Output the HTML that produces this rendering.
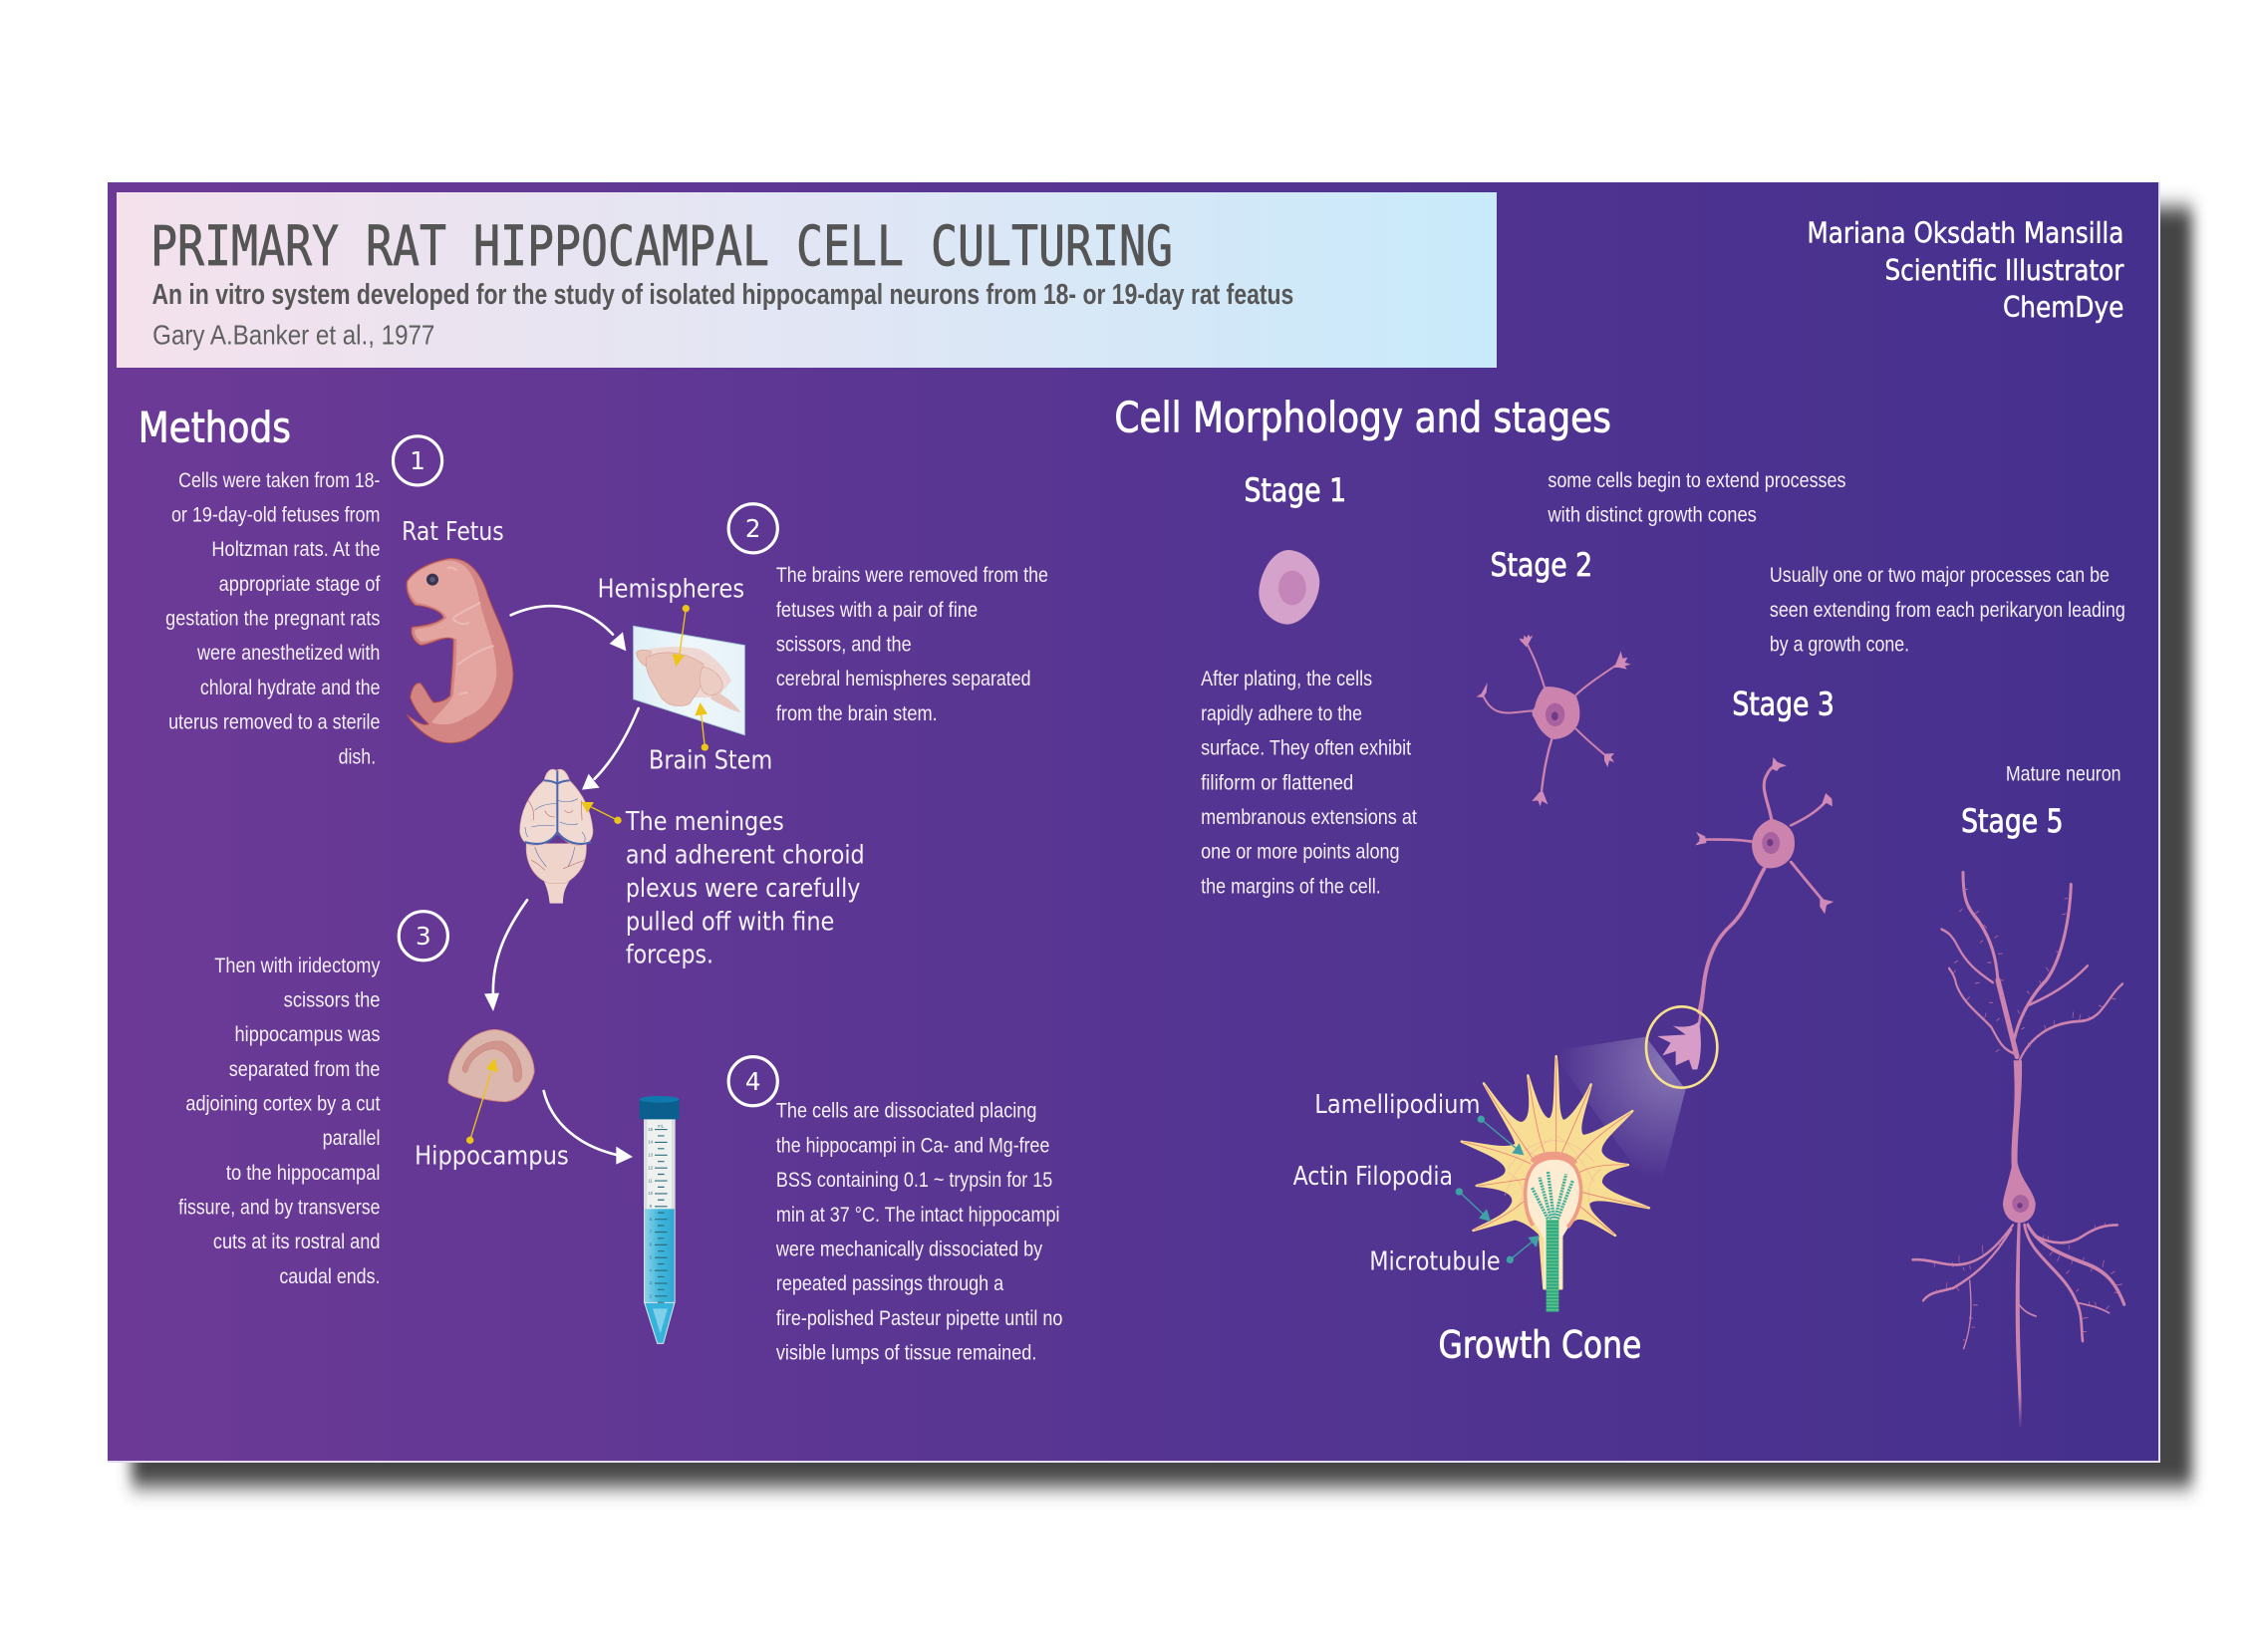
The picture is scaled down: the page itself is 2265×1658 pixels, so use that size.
<!DOCTYPE html>
<html lang="en">
<head>
<meta charset="utf-8">
<title>Primary Rat Hippocampal Cell Culturing</title>
<style>
html,body{margin:0;padding:0;background:#fff;}
svg{display:block;}
.b{font-family:"Liberation Sans",sans-serif;font-size:15px;fill:#f4eff9;transform:translateY(-.7px);}
.l{font-family:"DejaVu Sans",sans-serif;font-size:18px;fill:#f6f2fb;}
.a{font-family:"DejaVu Sans",sans-serif;font-size:20px;fill:#fff;stroke:#fff;stroke-width:.35px;}
.h{font-family:"DejaVu Sans",sans-serif;fill:#fff;stroke:#fff;stroke-width:.55px;}
.n{font-family:"DejaVu Sans",sans-serif;font-size:17px;fill:#fff;text-anchor:middle;}
.c{fill:none;stroke:#fff;stroke-width:2.2;}
.w{fill:none;stroke:#fff;stroke-width:8;stroke-linecap:round;}
.y{stroke:#edc516;fill:none;stroke-width:4;}
.t{stroke:#3fa1a5;fill:none;stroke-width:4;}
.p{fill:none;stroke:#cc83ae;stroke-linecap:round;}
.r{fill:none;stroke:#e97f72;stroke-width:2.5;}
.s{fill:none;stroke:#c76fa3;stroke-width:1.8;}
.mm{font-family:"Liberation Sans",sans-serif;font-size:13px;fill:#3f7282;}
</style>
</head>
<body>
<svg xmlns="http://www.w3.org/2000/svg" width="2265" height="1658" viewBox="0 0 2265 1658">
<defs>
<linearGradient id="pg" x1="0" y1="0" x2="1" y2="0"><stop offset="0" stop-color="#6c3a96"/><stop offset=".5" stop-color="#563592"/><stop offset="1" stop-color="#45308e"/></linearGradient>
<linearGradient id="tg" x1="0" y1="0" x2="1" y2="0"><stop offset="0" stop-color="#f4e1ec"/><stop offset=".5" stop-color="#e2e6f4"/><stop offset="1" stop-color="#c8eafb"/></linearGradient>
<linearGradient id="fade" gradientUnits="userSpaceOnUse" x1="0" y1="1230" x2="0" y2="1310"><stop offset="0" stop-color="#cc83ae"/><stop offset="1" stop-color="#cc83ae" stop-opacity="0"/></linearGradient>
<linearGradient id="slide" x1="0" y1="0" x2="1" y2="0"><stop offset="0" stop-color="#dff0f6"/><stop offset=".5" stop-color="#eef7fb"/><stop offset="1" stop-color="#e6f2f9"/></linearGradient>
<linearGradient id="liq" x1="0" y1="0" x2="1" y2="0"><stop offset="0" stop-color="#8fd2e8"/><stop offset=".5" stop-color="#3fb6dc"/><stop offset="1" stop-color="#2fa8d2"/></linearGradient>
<radialGradient id="beam" gradientUnits="userSpaceOnUse" cx="1195" cy="205" r="345"><stop offset="0" stop-color="#fff" stop-opacity=".34"/><stop offset="1" stop-color="#fff" stop-opacity="0"/></radialGradient>
<filter id="blur" x="-5%" y="-5%" width="110%" height="110%"><feGaussianBlur stdDeviation="7 10"/></filter>
</defs>

<rect width="2265" height="1658" fill="#fff"/>
<rect x="132" y="208" width="2068" height="1284" fill="#444" filter="url(#blur)"/>
<rect x="108" y="183" width="2059" height="1284" fill="url(#pg)"/>
<polyline points="2167,183 2167,1467 108,1467" fill="none" stroke="#e4dcef" stroke-width="2"/>
<rect x="117" y="193" width="1385" height="176" fill="url(#tg)"/>

<!-- Illustration: rat, slide, brain (crop coordinates) -->
<g transform="translate(380,520) scale(.33333)">
 <g>
  <path d="M85 190C100 165 140 135 210 122C260 118 300 150 325 220C345 290 400 370 405 470C405 540 360 610 300 645C270 675 220 685 175 670C140 655 105 625 85 592C120 620 140 625 150 620C130 600 110 580 95 540C100 510 110 495 125 497C140 510 150 540 165 555C190 555 205 545 215 535C220 480 225 420 225 365C195 350 150 385 125 382C105 370 95 350 100 328C130 325 170 320 195 300C190 280 150 265 110 262C95 250 80 220 85 190Z" fill="#d28582" stroke="#b5504e" stroke-width="3"/>
  <path d="M88 192C105 168 140 140 205 128C250 125 285 155 300 230C310 300 355 380 355 470C350 530 310 585 260 600C230 625 180 625 160 615C185 580 215 560 225 530C230 470 235 420 235 365C200 345 150 375 128 372C112 360 105 345 110 335C140 330 180 325 205 300C195 275 150 260 115 255C100 240 85 215 88 192Z" fill="#e4a5a0"/>
  <path d="M225 300C250 280 280 270 305 255M240 440C280 410 320 390 345 385M245 530L265 525M225 305C240 320 260 320 270 315M210 150C220 145 230 155 235 155" fill="none" stroke="#efc2bd" stroke-width="6" stroke-linecap="round" opacity=".75"/>
  <circle cx="162" cy="185" r="18" fill="#3a3450"/>
  <circle cx="162" cy="185" r="8" fill="#5a587c"/>
 </g>
 <path class="w" d="M398 292C480 255 600 240 705 350"/>
 <polygon points="745,400 695,378 735,343" fill="#fff"/>
 <g>
  <polygon points="767,325 1102,383 1102,653 767,545" fill="url(#slide)" stroke="#a9cdd6" stroke-width="3"/>
  <path d="M810 395C860 385 920 385 970 395C1010 415 1050 460 1062 490L1020 540L950 540Z" fill="#efd8d3"/>
  <path d="M1005 520C1030 525 1065 550 1090 585C1060 580 1030 560 1000 545Z" fill="#e9c8bf"/>
  <path d="M775 405C785 395 805 395 820 402L815 450C795 445 778 425 775 405Z" fill="#e9c3b8" stroke="#dca295" stroke-width="2"/>
  <path d="M805 420C850 395 920 400 978 440C985 490 960 525 935 560C900 572 870 565 850 540C830 500 800 470 805 420Z" fill="#e9c3b8" stroke="#dca295" stroke-width="2"/>
  <path d="M975 450C1000 445 1040 480 1035 510C1025 535 990 540 975 520C965 500 965 470 975 450Z" fill="#eccdc4" stroke="#dca295" stroke-width="2"/>
  <circle cx="925" cy="272" r="11" fill="#edc516"/>
  <line class="y" x1="925" y1="272" x2="905" y2="415"/>
  <polygon points="895,447 884,408 920,414" fill="#edc516"/>
  <circle cx="982" cy="690" r="11" fill="#edc516"/>
  <line class="y" x1="982" y1="690" x2="971" y2="590"/>
  <polygon points="968,555 952,595 990,590" fill="#edc516"/>
 </g>
 <path class="w" d="M782 573C750 650 705 730 650 785"/>
 <polygon points="612,818 665,812 632,770" fill="#fff"/>
 <g>
  <path d="M485 1070C510 1110 512 1140 515 1160L555 1160C555 1130 560 1110 590 1070Z" fill="#efd5cc"/>
  <path d="M445 980C440 1040 470 1085 515 1100L560 1100C605 1075 628 1040 625 980Z" fill="#efd4cc" stroke="#e0a9a0" stroke-width="2"/>
  <path d="M535 760C520 750 505 760 498 790C450 830 425 890 425 945C430 975 450 990 480 985C510 975 530 960 538 950C550 960 570 985 600 985C630 985 645 970 645 940C640 880 615 830 575 790C565 760 550 750 535 760Z" fill="#f0dad2" stroke="#e0a9a0" stroke-width="2"/>
  <path d="M538 760V945M538 945C520 975 490 990 440 975M538 945C560 975 600 990 640 975M498 790C515 790 530 795 538 800M575 790C560 790 545 795 538 800" fill="none" stroke="#4a65ad" stroke-width="6"/>
  <path d="M535 860C500 860 480 870 470 880M540 850C570 860 590 850 600 845M530 925C500 925 480 925 460 930M545 915C570 925 590 925 600 920M450 960C440 950 445 940 440 930M620 975C625 955 615 950 612 945M470 990C480 1020 490 1030 505 1050M590 990C585 1020 580 1030 570 1050" fill="none" stroke="#4a65ad" stroke-width="1.6"/>
  <path d="M450 850C465 870 470 890 465 910M610 850C610 880 612 890 612 910M500 880C510 900 520 900 530 900M560 880C570 890 575 890 585 880M460 1030C480 1040 490 1050 500 1060M620 1030C590 1040 570 1050 555 1055" fill="none" stroke="#b65a5c" stroke-width="1.6"/>
 </g>
 <circle cx="720" cy="910" r="11" fill="#edc516"/>
 <line class="y" x1="720" y1="910" x2="640" y2="870"/>
 <polygon points="610,855 648,855 628,888" fill="#edc516"/>
</g>

<!-- Illustration: hippocampus, tube -->
<g transform="translate(400,880) scale(.33333)">
 <path class="w" d="M387 70C330 150 280 240 285 360"/>
 <polygon points="285,405 258,352 303,350" fill="#fff"/>
 <path d="M150 620C150 560 200 465 290 460C360 465 410 530 408 590C395 640 360 675 320 677C270 675 190 660 150 620Z" fill="#dcb7ae" stroke="#d88a80" stroke-width="3"/>
 <path d="M192 578C205 530 260 490 310 495C350 510 375 560 370 605C360 625 345 620 345 600C350 560 320 520 285 518C250 520 215 550 208 582C205 592 195 592 192 578Z" fill="#d0968e" stroke="#c9857e" stroke-width="2"/>
 <circle cx="215" cy="793" r="11" fill="#edc516"/>
 <line class="y" x1="215" y1="793" x2="278" y2="590"/>
 <polygon points="290,545 264,578 299,590" fill="#edc516"/>
 <path class="w" d="M437 645C460 740 540 810 660 838"/>
 <polygon points="705,843 655,812 655,866" fill="#fff"/>
 <g>
  <rect x="738" y="728" width="95" height="555" fill="#d9dddd"/>
  <rect x="748" y="728" width="74" height="275" fill="#eff1f1"/>
  <rect x="741" y="1000" width="89" height="282" fill="url(#liq)"/>
  <polygon points="740,1282 831,1282 797,1405 779,1405" fill="#35b3dc" stroke="#dbe7ea" stroke-width="3"/>
  <polygon points="765,1300 810,1300 788,1375" fill="#7fd0e8"/>
  <line x1="790" y1="759" x2="790" y2="1285" stroke="#2f6f80" stroke-width="38" stroke-dasharray="3.5 35.1"/>
  <line x1="790" y1="778" x2="790" y2="1285" stroke="#2f6f80" stroke-width="20" stroke-dasharray="3.5 35.1"/>
  <text class="mm" x="780" y="754">mL</text>
  <text class="mm" x="751" y="765">15</text>
  <text class="mm" x="751" y="803">14</text>
  <text class="mm" x="751" y="842">13</text>
  <text class="mm" x="751" y="880">12</text>
  <text class="mm" x="751" y="919">11</text>
  <text class="mm" x="751" y="957">10</text>
  <text class="mm" x="755" y="996">9</text>
  <text class="mm" x="755" y="1035">8</text>
  <text class="mm" x="755" y="1073">7</text>
  <text class="mm" x="755" y="1112">6</text>
  <text class="mm" x="755" y="1150">5</text>
  <text class="mm" x="755" y="1189">4</text>
  <text class="mm" x="755" y="1227">3</text>
  <text class="mm" x="755" y="1267">2</text>
  <rect x="725" y="668" width="120" height="62" rx="6" fill="#0b5f8f"/>
  <ellipse cx="785" cy="670" rx="60" ry="10" fill="#0f78ad"/>
 </g>
</g>

<!-- Illustration: stage 1 and 3 -->
<g transform="translate(1200,520) scale(.44643,.33333)">
 <g>
  <path d="M210 96C250 100 282 150 278 200C275 260 240 320 205 320C165 315 140 265 142 220C145 160 175 95 210 96Z" fill="#d5a2cb"/>
  <ellipse cx="217" cy="210" rx="31" ry="52" fill="#c485b9"/>
 </g>
 <g>
  <path class="p" stroke-width="7" d="M1295 915C1290 860 1265 810 1285 770C1290 755 1300 745 1308 740"/>
  <path class="p" stroke-width="7" d="M1338 925C1370 905 1400 880 1418 850"/>
  <path class="p" stroke-width="8" d="M1255 975C1210 965 1170 968 1135 968"/>
  <path class="p" stroke-width="7" d="M1338 1035C1365 1080 1390 1120 1412 1155"/>
  <path class="p" stroke-width="9" d="M1278 1055C1250 1120 1240 1180 1200 1230C1160 1280 1145 1350 1140 1430L1132 1490"/>
  <path fill="#d08ab8" d="M1295 755L1298 720L1308 735L1328 745L1312 752L1306 762ZM1405 870L1416 828L1430 845L1431 868L1418 858ZM1145 958L1125 945L1135 968L1122 985L1148 978ZM1403 1145L1434 1155L1418 1165L1414 1192L1403 1170Z"/>
  <path d="M1295 905C1320 915 1340 930 1345 960C1350 1000 1340 1035 1310 1050C1290 1058 1272 1055 1262 1035C1250 1010 1248 985 1252 965C1258 935 1275 915 1295 905Z" fill="#cc83ae"/>
  <ellipse cx="1293" cy="978" rx="20" ry="33" fill="#a9619f"/>
  <ellipse cx="1291" cy="977" rx="7" ry="11" fill="#6f3b87"/>
 </g>
</g>

<!-- Illustration: stage 2 -->
<g transform="translate(1460,620) scale(.33333)">
 <path class="p" stroke-width="6" d="M270 210C255 160 235 110 215 75"/>
 <path class="p" stroke-width="6" d="M365 232C400 200 445 170 490 140"/>
 <path class="p" stroke-width="6" d="M240 280C200 280 160 295 125 280C105 270 95 255 85 235"/>
 <path class="p" stroke-width="6" d="M365 335C395 365 430 395 460 420"/>
 <path class="p" stroke-width="7" d="M292 365C275 420 265 480 260 535"/>
 <path fill="#d08ab8" d="M215 88C205 75 195 70 195 62L207 65L208 52L216 60L222 50L226 58L235 52L225 72ZM480 150L500 100L505 122L520 120L512 135L530 140L512 145L518 155L495 150ZM85 240L65 238L80 228L98 195L95 225ZM450 410L480 408L470 420L480 435L465 430L460 450L450 430ZM255 525L232 552L250 550L257 568L262 552L280 562L266 525Z"/>
 <path d="M270 208C300 205 340 215 365 235C380 270 380 310 365 330C345 360 310 368 290 365C265 350 250 330 240 305C230 290 230 280 240 270C245 245 255 225 270 208Z" fill="#cc83ae"/>
 <ellipse cx="302" cy="292" rx="29" ry="35" fill="#a9619f"/>
 <ellipse cx="301" cy="296" rx="10" ry="13" fill="#6f3b87"/>
</g>

<!-- Illustration: growth cone -->
<g transform="translate(1280,1000) scale(.33333)">
 <polygon points="1115,122 1235,280 1150,610 830,165" fill="url(#beam)"/>
 <path class="p" stroke-width="8" stroke="#d79cc8" d="M1288 0L1275 85"/>
 <path d="M1275 75C1250 100 1200 90 1196 88L1235 115L1150 120L1190 140L1165 178L1205 165L1205 208L1245 190L1255 220L1270 220C1285 170 1282 120 1275 75Z" fill="#d79cc8"/>
 <ellipse cx="1223" cy="153" rx="107" ry="122" fill="none" stroke="#f7e28c" stroke-width="8"/>
 <path d="M795 715C770 690 745 675 720 670L595 705C640 680 700 660 715 620C720 590 680 575 605 570C660 555 700 545 695 520C690 490 620 465 560 437C620 445 700 465 725 445C720 420 670 340 627 262C670 320 720 390 745 380C770 370 770 320 760 238C780 300 800 370 825 370C845 360 840 270 845 180C855 270 845 350 865 375C885 375 925 320 950 265C935 330 905 400 925 420C950 420 1010 385 1075 345C1030 395 970 440 980 470C990 495 1030 505 1062 507C1030 515 980 525 980 560C990 590 1060 610 1125 637C1050 625 970 600 945 620C930 640 980 680 1023 720C980 695 930 660 905 670C885 680 870 700 862 720V880H808Z" fill="#f8dd95" stroke="#f8dd95" stroke-width="7" stroke-linejoin="round"/>
 <path d="M700 520C760 420 880 400 960 500M740 440C800 520 900 520 960 430M690 600C720 520 760 470 830 430M960 560C930 500 880 440 850 420M720 640C760 600 750 560 700 530M950 640C930 590 950 540 980 520" fill="none" stroke="#efb49a" stroke-width="2" opacity=".7"/>
 <path class="r" d="M845 185V470"/>
 <path class="r" d="M762 245C775 330 790 420 810 470"/>
 <path class="r" d="M630 268C680 350 735 430 775 490"/>
 <path class="r" d="M948 272C920 340 885 420 860 475"/>
 <path class="r" d="M1070 350C1010 390 940 440 895 505"/>
 <path class="r" d="M565 438C640 455 720 480 770 505"/>
 <path class="r" d="M1058 507C1000 505 950 510 915 530"/>
 <path class="r" d="M608 570C660 565 710 555 755 550"/>
 <path class="r" d="M1120 635C1050 620 980 605 925 590"/>
 <path class="r" d="M598 703C650 685 710 650 750 615"/>
 <path class="r" d="M1020 717C985 690 950 660 915 630"/>
 <path d="M750 590C750 510 790 470 835 470C885 470 925 520 925 590C925 650 880 690 862 730V880H808V730C790 690 750 650 750 590Z" fill="#fdecd2"/>
 <path d="M775 690C745 640 745 560 770 520C790 480 880 470 905 520C930 570 925 640 880 695" fill="none" stroke="#ee9c85" stroke-width="11"/>
 <path d="M775 500C800 470 880 470 900 505" fill="none" stroke="#ee9c85" stroke-width="22"/>
 <ellipse cx="835" cy="590" rx="72" ry="78" fill="#fdecd2"/>
 <rect x="815" y="672" width="38" height="278" fill="#2fa87f"/>
 <line x1="834" y1="672" x2="834" y2="950" stroke="#62c48c" stroke-width="38" stroke-dasharray="4 6"/>
 <g fill="none" stroke="#45b09a" stroke-width="10" stroke-dasharray="6 3">
  <path d="M820 670L772 575"/>
  <path d="M830 670L795 545"/>
  <path d="M838 668L820 525"/>
  <path d="M842 668L875 535"/>
  <path d="M850 670L895 555"/>
 </g>
 <circle cx="619" cy="370" r="11" fill="#3fa1a5"/>
 <line class="t" x1="619" y1="370" x2="725" y2="458"/>
 <polygon points="748,478 712,472 734,442" fill="#3fa1a5"/>
 <circle cx="553" cy="588" r="11" fill="#3fa1a5"/>
 <line class="t" x1="553" y1="588" x2="628" y2="658"/>
 <polygon points="648,678 612,668 636,640" fill="#3fa1a5"/>
 <circle cx="706" cy="793" r="11" fill="#3fa1a5"/>
 <line class="t" x1="706" y1="793" x2="775" y2="737"/>
 <polygon points="795,720 785,756 760,726" fill="#3fa1a5"/>
</g>

<!-- Illustration: stage 5 neuron -->
<g transform="translate(1880,850) scale(.33333,.44643)">
 <path class="p" stroke-width="15" d="M432 470L375 300"/>
 <path class="p" stroke-width="9" d="M375 300C370 250 355 210 320 170C290 140 270 130 270 58"/>
 <path class="p" stroke-width="6" d="M360 305C310 280 280 260 255 225C235 195 220 190 205 185"/>
 <path class="p" stroke-width="6" d="M425 465C390 455 380 440 355 405C310 370 270 350 250 310C245 290 235 280 228 273"/>
 <path class="p" stroke-width="9" d="M425 430C440 380 480 330 520 300C560 260 590 180 595 85"/>
 <path class="p" stroke-width="6" d="M470 355C530 335 590 310 645 267"/>
 <path class="p" stroke-width="6" d="M440 480C470 430 530 395 620 392C690 390 700 340 750 308"/>
 <path d="M422 480C432 600 412 640 416 720C400 770 390 790 390 805C395 835 420 845 440 845C470 845 490 825 488 800C480 770 445 750 434 710C432 640 450 560 447 480Z" fill="#cc83ae"/>
 <ellipse cx="443" cy="802" rx="25" ry="20" fill="#a9619f"/>
 <ellipse cx="441" cy="806" rx="8" ry="6" fill="#6f3b87"/>
 <path class="p" stroke-width="6" d="M420 850C390 880 340 930 270 938C220 945 170 925 118 928"/>
 <path class="p" stroke-width="6" d="M415 860C350 940 290 970 240 992C200 1000 170 1000 150 1020"/>
 <path class="p" stroke-width="4" d="M290 975C295 1020 300 1070 272 1128"/>
 <path d="M434 845C428 950 426 1050 431 1150C436 1220 438 1260 439 1305H446C446 1260 445 1220 443 1150C439 1050 440 950 443 845Z" fill="url(#fade)"/>
 <path class="p" stroke-width="4" d="M432 1020C445 1040 465 1050 490 1055"/>
 <path class="p" stroke-width="8" d="M455 850C470 920 570 950 610 1020C630 1050 625 1080 630 1110"/>
 <path class="p" stroke-width="4" d="M615 1025C650 1030 680 1035 710 1048"/>
 <path class="p" stroke-width="9" d="M465 850C500 900 580 920 650 940C700 955 730 980 755 1028"/>
 <path class="p" stroke-width="6" d="M490 875C540 895 590 895 630 875C670 855 700 850 735 850"/>
 <path class="s" d="M270 95h14M268 140l-10 6M305 150l14-6M332 175l10 8M330 210l-10 6M365 205l10-6M375 240h14M355 260l-12 0M380 300h12M360 350l-12 0M385 335h10M380 385l-10 6M410 380l-8 8M585 115l-10 2M580 150l-12 2M550 235l12 2M520 270l8 10M500 300l6 10M470 330l-8-6M440 375l-6-8M445 410l10-4M465 440l8 10M515 400l4 12M545 390l-2 12M600 385l2-14M620 390l4-14M650 390l-2-10M690 360l-12-4M710 340l20 2M255 255l-12 6M320 305l-14 2M280 345l10-8M240 285l8-8M335 385l4-12M380 455l-12 6M240 945l-2-12M258 935v-16M185 935l-2 10M270 945l4 8M290 940l2 10M330 915l-2-20M380 895l-2-10M220 995l2-16M250 990l8 8M190 995l-2 8M300 1030h14M300 1060l-12-2M295 1080h10M280 1110l-10-2M510 880l4-8M525 885l2-10M590 895l-2 10M670 860l-4-10M695 855l2-10M540 910l-10 8M560 920l-6 12M600 930l-4 8M630 935l4-12M660 945l-6 10M690 945l4-16M715 960l12-6M730 985l20-2M745 1005l-20-4M580 960l10-8M610 1000l8-6M650 1030v-8M670 1033l-2-10M700 1040l10-8M630 1060l16-2M630 1090l12 0"/>
</g>

<!-- Text: display-scale coordinates -->
<g transform="scale(1.445)">
 <text x="104.5" y="184" font-family="'DejaVu Sans Mono',monospace" font-size="38" fill="#555" stroke="#555" stroke-width=".55" textLength="710" lengthAdjust="spacingAndGlyphs">PRIMARY RAT HIPPOCAMPAL CELL CULTURING</text>
 <text x="105.5" y="211" font-family="'Liberation Sans',sans-serif" font-weight="bold" font-size="20" fill="#575757" textLength="793" lengthAdjust="spacingAndGlyphs">An in vitro system developed for the study of isolated hippocampal neurons from 18- or 19-day rat featus</text>
 <text x="106" y="239" font-family="'Liberation Sans',sans-serif" font-size="19" fill="#606060" textLength="196" lengthAdjust="spacingAndGlyphs">Gary A.Banker et al., 1977</text>

 <text class="a" x="1255" y="168.5" textLength="220" lengthAdjust="spacingAndGlyphs">Mariana Oksdath Mansilla</text>
 <text class="a" x="1309" y="194.5" textLength="166" lengthAdjust="spacingAndGlyphs">Scientific Illustrator</text>
 <text class="a" x="1391" y="220" textLength="84" lengthAdjust="spacingAndGlyphs">ChemDye</text>

 <text class="h" x="96" y="307" font-size="29" textLength="106" lengthAdjust="spacingAndGlyphs">Methods</text>
 <text class="h" x="774" y="300" font-size="29" textLength="345" lengthAdjust="spacingAndGlyphs">Cell Morphology and stages</text>

 <circle class="c" cx="290" cy="320" r="17"/>
 <text class="n" x="290" y="326">1</text>
 <circle class="c" cx="523" cy="367" r="17"/>
 <text class="n" x="523" y="373">2</text>
 <circle class="c" cx="294" cy="650" r="17"/>
 <text class="n" x="294" y="656">3</text>
 <circle class="c" cx="523" cy="751" r="17"/>
 <text class="n" x="523" y="757">4</text>

 <text class="b" x="124" y="339" textLength="140" lengthAdjust="spacingAndGlyphs">Cells were taken from 18-</text>
 <text class="b" x="119" y="363" textLength="145" lengthAdjust="spacingAndGlyphs">or 19-day-old fetuses from</text>
 <text class="b" x="147" y="387" textLength="117" lengthAdjust="spacingAndGlyphs">Holtzman rats. At the</text>
 <text class="b" x="152" y="411" textLength="112" lengthAdjust="spacingAndGlyphs">appropriate stage of</text>
 <text class="b" x="115" y="435" textLength="149" lengthAdjust="spacingAndGlyphs">gestation the pregnant rats</text>
 <text class="b" x="137" y="459" textLength="127" lengthAdjust="spacingAndGlyphs">were anesthetized with</text>
 <text class="b" x="139" y="483" textLength="125" lengthAdjust="spacingAndGlyphs">chloral hydrate and the</text>
 <text class="b" x="117" y="507" textLength="147" lengthAdjust="spacingAndGlyphs">uterus removed to a sterile</text>
 <text class="b" x="235" y="531" textLength="26" lengthAdjust="spacingAndGlyphs">dish.</text>

 <text class="b" x="539" y="405" textLength="189" lengthAdjust="spacingAndGlyphs">The brains were removed from the</text>
 <text class="b" x="539" y="429" textLength="140" lengthAdjust="spacingAndGlyphs">fetuses with a pair of fine</text>
 <text class="b" x="539" y="453" textLength="94" lengthAdjust="spacingAndGlyphs">scissors, and the</text>
 <text class="b" x="539" y="477" textLength="177" lengthAdjust="spacingAndGlyphs">cerebral hemispheres separated</text>
 <text class="b" x="539" y="501" textLength="112" lengthAdjust="spacingAndGlyphs">from the brain stem.</text>

 <text class="b" x="149" y="676" textLength="115" lengthAdjust="spacingAndGlyphs">Then with iridectomy</text>
 <text class="b" x="197" y="700" textLength="67" lengthAdjust="spacingAndGlyphs">scissors the</text>
 <text class="b" x="163" y="724" textLength="101" lengthAdjust="spacingAndGlyphs">hippocampus was</text>
 <text class="b" x="159" y="748" textLength="105" lengthAdjust="spacingAndGlyphs">separated from the</text>
 <text class="b" x="129" y="772" textLength="135" lengthAdjust="spacingAndGlyphs">adjoining cortex by a cut</text>
 <text class="b" x="224" y="796" textLength="40" lengthAdjust="spacingAndGlyphs">parallel</text>
 <text class="b" x="157" y="820" textLength="107" lengthAdjust="spacingAndGlyphs">to the hippocampal</text>
 <text class="b" x="124" y="844" textLength="140" lengthAdjust="spacingAndGlyphs">fissure, and by transverse</text>
 <text class="b" x="148" y="868" textLength="116" lengthAdjust="spacingAndGlyphs">cuts at its rostral and</text>
 <text class="b" x="194" y="892" textLength="70" lengthAdjust="spacingAndGlyphs">caudal ends.</text>

 <text class="b" x="539" y="777" textLength="181" lengthAdjust="spacingAndGlyphs">The cells are dissociated placing</text>
 <text class="b" x="539" y="801" textLength="190" lengthAdjust="spacingAndGlyphs">the hippocampi in Ca- and Mg-free</text>
 <text class="b" x="539" y="825" textLength="192" lengthAdjust="spacingAndGlyphs">BSS containing 0.1 ~ trypsin for 15</text>
 <text class="b" x="539" y="849" textLength="197" lengthAdjust="spacingAndGlyphs">min at 37 °C. The intact hippocampi</text>
 <text class="b" x="539" y="873" textLength="185" lengthAdjust="spacingAndGlyphs">were mechanically dissociated by</text>
 <text class="b" x="539" y="897" textLength="158" lengthAdjust="spacingAndGlyphs">repeated passings through a</text>
 <text class="b" x="539" y="921" textLength="199" lengthAdjust="spacingAndGlyphs">fire-polished Pasteur pipette until no</text>
 <text class="b" x="539" y="945" textLength="181" lengthAdjust="spacingAndGlyphs">visible lumps of tissue remained.</text>

 <text class="l" x="279" y="375" textLength="71" lengthAdjust="spacingAndGlyphs">Rat Fetus</text>
 <text class="l" x="415" y="415" textLength="102" lengthAdjust="spacingAndGlyphs">Hemispheres</text>
 <text class="l" x="450.5" y="534" textLength="86" lengthAdjust="spacingAndGlyphs">Brain Stem</text>
 <text class="l" x="434.5" y="576.3" textLength="110" lengthAdjust="spacingAndGlyphs">The meninges</text>
 <text class="l" x="434.5" y="599.5" textLength="166" lengthAdjust="spacingAndGlyphs">and adherent choroid</text>
 <text class="l" x="434.5" y="623" textLength="163" lengthAdjust="spacingAndGlyphs">plexus were carefully</text>
 <text class="l" x="434.5" y="646" textLength="145" lengthAdjust="spacingAndGlyphs">pulled off with fine</text>
 <text class="l" x="434.5" y="669" textLength="61" lengthAdjust="spacingAndGlyphs">forceps.</text>
 <text class="l" x="288" y="808.5" textLength="107" lengthAdjust="spacingAndGlyphs">Hippocampus</text>

 <text class="h" x="864" y="348" font-size="22" textLength="71" lengthAdjust="spacingAndGlyphs">Stage 1</text>
 <text class="h" x="1035" y="400" font-size="22" textLength="71" lengthAdjust="spacingAndGlyphs">Stage 2</text>
 <text class="h" x="1203" y="496.5" font-size="22" textLength="71" lengthAdjust="spacingAndGlyphs">Stage 3</text>
 <text class="h" x="1362" y="578" font-size="22" textLength="71" lengthAdjust="spacingAndGlyphs">Stage 5</text>

 <text class="b" x="1075" y="339" textLength="207" lengthAdjust="spacingAndGlyphs">some cells begin to extend processes</text>
 <text class="b" x="1075" y="363" textLength="145" lengthAdjust="spacingAndGlyphs">with distinct growth cones</text>
 <text class="b" x="1229" y="405" textLength="236" lengthAdjust="spacingAndGlyphs">Usually one or two major processes can be</text>
 <text class="b" x="1229" y="429" textLength="247" lengthAdjust="spacingAndGlyphs">seen extending from each perikaryon leading</text>
 <text class="b" x="1229" y="453" textLength="97" lengthAdjust="spacingAndGlyphs">by a growth cone.</text>
 <text class="b" x="834" y="477" textLength="119" lengthAdjust="spacingAndGlyphs">After plating, the cells</text>
 <text class="b" x="834" y="501" textLength="112" lengthAdjust="spacingAndGlyphs">rapidly adhere to the</text>
 <text class="b" x="834" y="525" textLength="146" lengthAdjust="spacingAndGlyphs">surface. They often exhibit</text>
 <text class="b" x="834" y="549" textLength="106" lengthAdjust="spacingAndGlyphs">filiform or flattened</text>
 <text class="b" x="834" y="573" textLength="150" lengthAdjust="spacingAndGlyphs">membranous extensions at</text>
 <text class="b" x="834" y="597" textLength="138" lengthAdjust="spacingAndGlyphs">one or more points along</text>
 <text class="b" x="834" y="621" textLength="125" lengthAdjust="spacingAndGlyphs">the margins of the cell.</text>
 <text class="b" x="1393" y="543" textLength="80" lengthAdjust="spacingAndGlyphs">Mature neuron</text>

 <text class="l" x="913" y="773" textLength="115" lengthAdjust="spacingAndGlyphs">Lamellipodium</text>
 <text class="l" x="898" y="823" textLength="111" lengthAdjust="spacingAndGlyphs">Actin Filopodia</text>
 <text class="l" x="951" y="882" textLength="91" lengthAdjust="spacingAndGlyphs">Microtubule</text>
 <text class="h" x="999" y="943" font-size="26" textLength="141" lengthAdjust="spacingAndGlyphs">Growth Cone</text>
</g>
</svg>
</body>
</html>
